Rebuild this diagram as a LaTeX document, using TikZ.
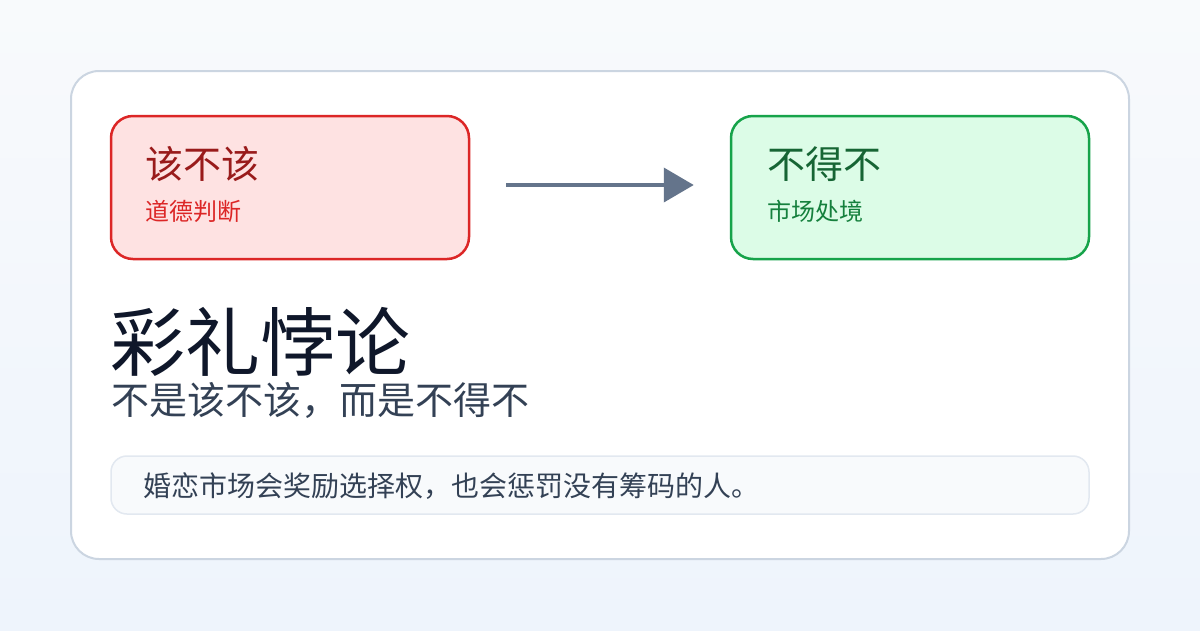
\documentclass[tikz,border=0pt]{standalone}
\usepackage{fontspec}
\setmainfont{Noto Sans CJK SC}
\usetikzlibrary{arrows.meta, positioning}

\definecolor{bgtop}{HTML}{F8FAFC}
\definecolor{bgbottom}{HTML}{EEF4FC}
\definecolor{cardline}{HTML}{CBD5E1}
\definecolor{redline}{HTML}{DC2626}
\definecolor{redfill}{HTML}{FEE2E2}
\definecolor{redtext}{HTML}{991B1B}
\definecolor{greenline}{HTML}{16A34A}
\definecolor{greenfill}{HTML}{DCFCE7}
\definecolor{greentext}{HTML}{166534}
\definecolor{greensub}{HTML}{15803D}
\definecolor{arrowgray}{HTML}{64748B}
\definecolor{titleink}{HTML}{0F172A}
\definecolor{bodyink}{HTML}{334155}
\definecolor{notefill}{HTML}{F8FAFC}
\definecolor{noteline}{HTML}{E2E8F0}

\begin{document}
\begin{tikzpicture}[x=1pt, y=-1pt,
		sidebox/.style={draw, line width=2.5pt, rounded corners=22pt, minimum width=358pt, minimum height=143pt, inner sep=0pt},
		label/.style={anchor=west, inner sep=0pt},
		flow/.style={draw=arrowgray, line width=4pt, -{Triangle[length=30pt, width=34pt]}, shorten <=36pt, shorten >=36pt}]
			\useasboundingbox (0, 0) rectangle (1200, 630);
			\shade[top color=bgtop, bottom color=bgbottom] (0, 0) rectangle (1200, 630);
			
			% card
			\draw[draw=cardline, fill=white, line width=2pt, rounded corners=28pt] (71, 71) rectangle (1129, 559);
			
			\node[sidebox, draw=redline, fill=redfill] (judgebox) at (290, 187.5) {};
			\node[sidebox, draw=greenline, fill=greenfill] (marketbox) at (910, 187.5) {};
			
			\node[label, text=redtext, font=\fontsize{38}{42}\selectfont] (judgetitle) at (145, 164.5) {该不该};
			\node[label, text=redline, font=\fontsize{24}{28}\selectfont] (judgesub) at (145, 211) {道德判断};
			\node[label, text=greentext, font=\fontsize{38}{42}\selectfont] (markettitle) at (767, 164.5) {不得不};
			\node[label, text=greensub, font=\fontsize{24}{28}\selectfont] (marketsub) at (767, 211) {市场处境};
			
			\draw[flow] ([yshift=2.5pt]judgebox.east) -- ([yshift=2.5pt]marketbox.west);
			
			\node[label, text=titleink, font=\fontsize{75}{80}\selectfont] (title) at (110, 341.5) {彩礼悖论};
			\node[label, text=bodyink, font=\fontsize{38}{42}\selectfont] (subtitle) at (111, 400) {不是该不该，而是不得不};
			
			% note strip
			\draw[draw=noteline, fill=notefill, line width=1.5pt, rounded corners=16pt] (111, 456) rectangle (1089, 514);
			\node[label, text=bodyink, font=\fontsize{28}{32}\selectfont] (note) at (143, 486.5) {婚恋市场会奖励选择权，也会惩罚没有筹码的人。};
		\end{tikzpicture}
\end{document}
